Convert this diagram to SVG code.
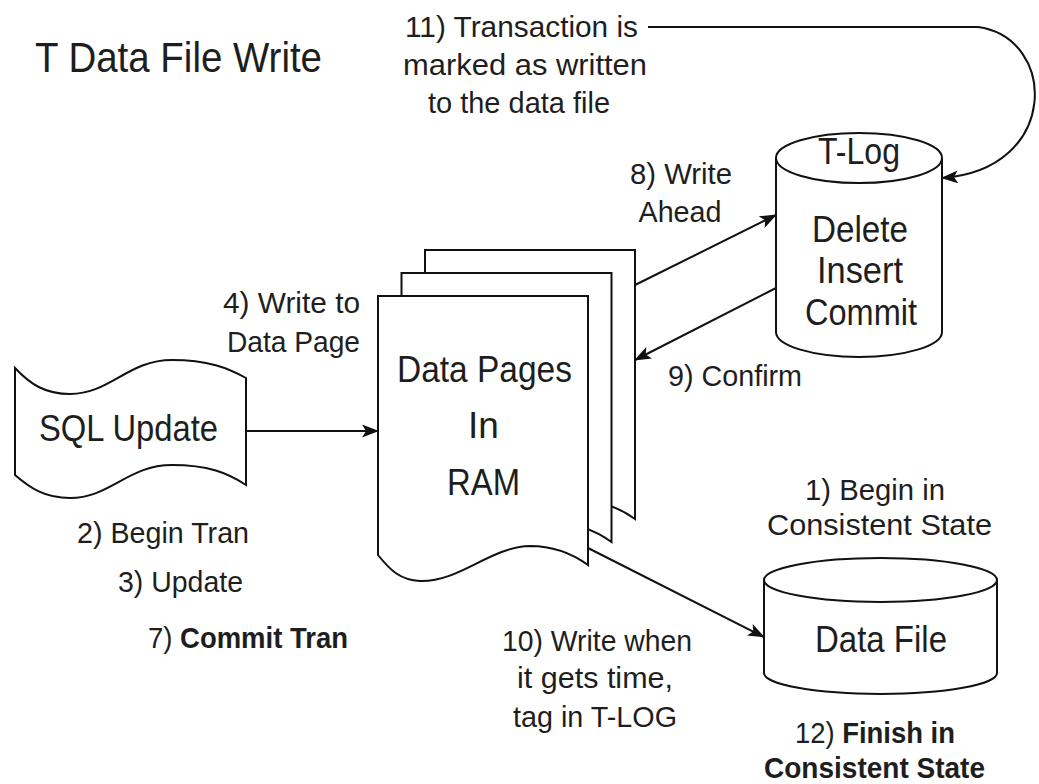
<svg xmlns="http://www.w3.org/2000/svg" xmlns:xlink="http://www.w3.org/1999/xlink" width="1039" height="784" viewBox="0 0 1039 784">
<style>
text{font-family:"Liberation Sans",Arial,sans-serif;fill:#1e1e1e;}
.t{font-size:30px;}
.big{font-size:37px;text-anchor:middle;}
.m{text-anchor:middle;}
.b{font-weight:bold;}
.shape{fill:#fff;stroke:#111;stroke-width:2;}
.conn{fill:none;stroke:#111;stroke-width:2;}
</style>
<defs>
<marker id="ah" markerWidth="17" markerHeight="13" refX="16" refY="6.5" orient="auto" markerUnits="userSpaceOnUse">
<path d="M0,0 L17,6.5 L0,13 L4,6.5 Z" fill="#111"/>
</marker>
<path id="page" d="M378,296 H588 V565 C570,552 552,546 530,546 C490,547 460,582 420,581 C400,580 390,570 378,555 Z"/>
</defs>
<rect width="1039" height="784" fill="#fff"/>

<g id="title">
<text x="35" y="72" style="font-size:43px" textLength="287" lengthAdjust="spacingAndGlyphs">T Data File Write</text>
</g>

<g id="sql-update">
<path class="shape" d="M15,368 C30,384 45,394 70,394 C110,394 128,360 172,360 C208,360 228,368 246,378 V485 C228,473 208,465 172,465 C128,465 110,498 70,498 C45,498 30,488 15,475 Z"/>
<text class="big" x="128.5" y="441" textLength="179" lengthAdjust="spacingAndGlyphs">SQL Update</text>
</g>

<g id="data-pages">
<use xlink:href="#page" href="#page" class="shape" transform="translate(47,-46)"/>
<use xlink:href="#page" href="#page" class="shape" transform="translate(23.5,-23)"/>
<use xlink:href="#page" href="#page" class="shape"/>
<text class="big" x="484.5" y="382" textLength="175" lengthAdjust="spacingAndGlyphs">Data Pages</text>
<text class="big" x="483.5" y="438">In</text>
<text class="big" x="483.5" y="495" textLength="73" lengthAdjust="spacingAndGlyphs">RAM</text>
</g>

<g id="t-log">
<path class="shape" d="M776,158 V332 A83,25 0 0 0 942,332 V158"/>
<ellipse class="shape" cx="859" cy="158" rx="83" ry="25"/>
<text class="big" x="859" y="164" textLength="82" lengthAdjust="spacingAndGlyphs">T-Log</text>
<text class="big" x="860" y="242" textLength="96" lengthAdjust="spacingAndGlyphs">Delete</text>
<text class="big" x="860" y="283" textLength="86" lengthAdjust="spacingAndGlyphs">Insert</text>
<text class="big" x="861" y="325" textLength="112" lengthAdjust="spacingAndGlyphs">Commit</text>
</g>

<g id="data-file">
<path class="shape" d="M764,580 V673 A116.5,21 0 0 0 997,673 V580"/>
<ellipse class="shape" cx="880.5" cy="580" rx="116.5" ry="22"/>
<text class="big" x="881" y="652" textLength="132" lengthAdjust="spacingAndGlyphs">Data File</text>
</g>

<g id="connectors">
<line class="conn" x1="246" y1="431" x2="378" y2="431" marker-end="url(#ah)"/>
<line class="conn" x1="635" y1="285" x2="776" y2="215" marker-end="url(#ah)"/>
<line class="conn" x1="776" y1="288" x2="635" y2="360" marker-end="url(#ah)"/>
<line class="conn" x1="588" y1="548" x2="764" y2="637" marker-end="url(#ah)"/>
<path class="conn" d="M648,27 L978,27 C1058,38 1060,170 942,178" marker-end="url(#ah)"/>
</g>

<g id="labels">
<text class="t m" x="521.5" y="37" textLength="233" lengthAdjust="spacingAndGlyphs">11) Transaction is</text>
<text class="t m" x="525" y="75" textLength="244" lengthAdjust="spacingAndGlyphs">marked as written</text>
<text class="t m" x="519" y="113" textLength="182" lengthAdjust="spacingAndGlyphs">to the data file</text>
<text class="t m" x="681" y="184" textLength="102" lengthAdjust="spacingAndGlyphs">8) Write</text>
<text class="t m" x="680" y="222" textLength="83" lengthAdjust="spacingAndGlyphs">Ahead</text>
<text class="t m" x="291.5" y="313" textLength="137" lengthAdjust="spacingAndGlyphs">4) Write to</text>
<text class="t m" x="293.5" y="352" textLength="133" lengthAdjust="spacingAndGlyphs">Data Page</text>
<text class="t" x="668" y="386" textLength="134" lengthAdjust="spacingAndGlyphs">9) Confirm</text>
<text class="t m" x="163" y="543" textLength="172" lengthAdjust="spacingAndGlyphs">2) Begin Tran</text>
<text class="t m" x="180.5" y="592" textLength="125" lengthAdjust="spacingAndGlyphs">3) Update</text>
<text class="t m" x="248" y="648" textLength="200" lengthAdjust="spacingAndGlyphs">7) <tspan class="b">Commit Tran</tspan></text>
<text class="t m" x="875" y="500" textLength="140" lengthAdjust="spacingAndGlyphs">1) Begin in</text>
<text class="t m" x="879.5" y="535" textLength="225" lengthAdjust="spacingAndGlyphs">Consistent State</text>
<text class="t m" x="597" y="651" textLength="190" lengthAdjust="spacingAndGlyphs">10) Write when</text>
<text class="t m" x="595" y="688" textLength="156" lengthAdjust="spacingAndGlyphs">it gets time,</text>
<text class="t m" x="595" y="727" textLength="164" lengthAdjust="spacingAndGlyphs">tag in T-LOG</text>
<text class="t m" x="875" y="743" textLength="160" lengthAdjust="spacingAndGlyphs">12) <tspan class="b">Finish in</tspan></text>
<text class="t m b" x="874.5" y="778" textLength="221" lengthAdjust="spacingAndGlyphs">Consistent State</text>
</g>
</svg>
